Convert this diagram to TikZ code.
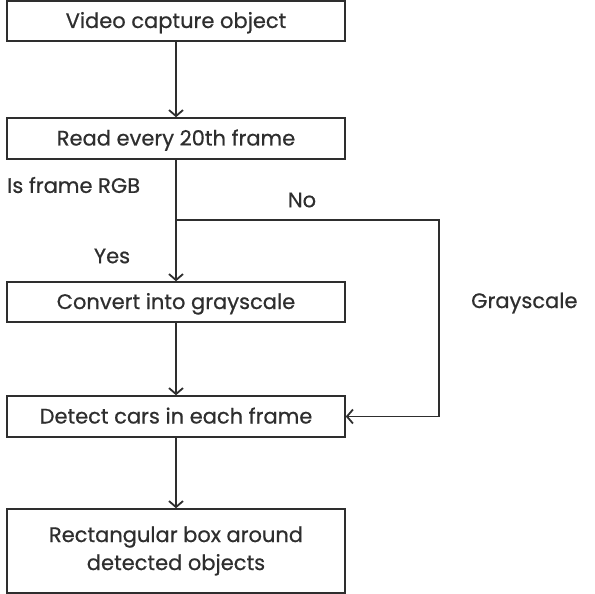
\documentclass[tikz,border=0pt]{standalone}
\usepackage{fontspec}
\setmainfont{Poppins}[FakeBold=0.6]
\usetikzlibrary{arrows.meta}
\definecolor{ink}{HTML}{2E2E2E}
\begin{document}
\begin{tikzpicture}[x=1pt,y=-1pt,
  box/.style={draw=ink,line width=1.5pt,minimum width=338pt,inner sep=0pt,align=center,text=ink,font=\fontsize{21}{28}\selectfont},
  onebox/.style={box,text height=17pt,text depth=3pt},
  lbl/.style={text=ink,inner sep=0pt,font=\fontsize{21}{24}\selectfont},
  conn/.style={draw=ink,line width=1.8pt,-{Straight Barb[length=6pt,width=14pt,line width=1.8pt]}}]
\useasboundingbox (0,0) rectangle (595,594);
\node[onebox,minimum height=40pt] (b1) at (176,21) {Video capture object};
\node[onebox,minimum height=41pt] (b2) at (176,138.5) {Read every 20th frame};
\node[onebox,minimum height=40pt] (b3) at (176,302) {Convert into grayscale};
\node[onebox,minimum height=41pt] (b4) at (176,416.5) {Detect cars in each frame};
\node[box,minimum height=84pt] (b5) at (176,551) {Rectangular box around\\detected objects};
\coordinate (split) at (176,220);
\coordinate (corner1) at (439,220);
\coordinate (corner2) at (439,416.5);
\draw[conn] (b1) -- (b2);
\draw[conn] (b2) -- (b3);
\draw[conn] (b3) -- (b4);
\draw[conn] (b4) -- (b5);
\draw[conn] (split) -- (corner1) -- (corner2) -- (b4.east);
\node[lbl,anchor=west] (q) at (7,185) {Is frame RGB};
\node[lbl] (no) at (302,200) {No};
\node[lbl] (yes) at (112,256) {Yes};
\node[lbl,anchor=west] (gs) at (471,303) {Grayscale};
\end{tikzpicture}
\end{document}
